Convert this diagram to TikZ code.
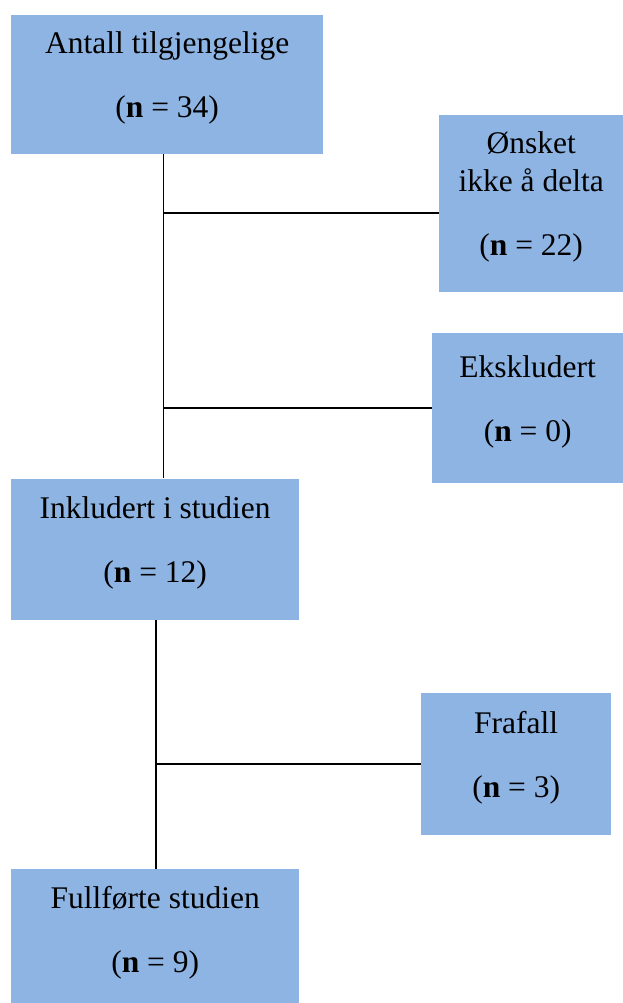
\documentclass[tikz,border=0pt]{standalone}
\usepackage{fontspec}
\setmainfont{Liberation Serif}
\usepackage{tikz}
\usetikzlibrary{positioning}
\definecolor{boxblue}{HTML}{8EB4E3}

\begin{document}
\begin{tikzpicture}[
  x=1pt, y=1pt,
  box/.style={fill=boxblue, align=center, anchor=north west, inner sep=0pt,
    text depth=20pt, font=\fontsize{31.5}{38}\selectfont},
  link/.style={line width=1.5pt}
]
\useasboundingbox (0,0) rectangle (623,-1003);

% Main column
\node[box, minimum width=312pt, minimum height=139pt] (avail) at (11,-15)
  {Antall tilgjengelige\\[26pt](\textbf{n} = 34)};
\node[box, minimum width=288pt, minimum height=141pt, below=324pt of avail.south west, anchor=north west] (included)
  {Inkludert i studien\\[26pt](\textbf{n} = 12)};
\node[box, minimum width=288pt, minimum height=141pt, below=249pt of included.south west, anchor=north west] (completed)
  {Fullførte studien\\[26pt](\textbf{n} = 9)};

% Side boxes
\node[box, minimum width=184pt, minimum height=177pt] (declined) at (439,-115)
  {Ønsket\\ikke å delta\\[26pt](\textbf{n} = 22)};
\node[box, minimum width=191pt, minimum height=150pt] (excluded) at (432,-333)
  {Ekskludert\\[26pt](\textbf{n} = 0)};
\node[box, minimum width=190pt, minimum height=142pt] (dropout) at (421,-693)
  {Frafall\\[26pt](\textbf{n} = 3)};

% Connections
\coordinate (trunk) at ([xshift=-3.5pt]avail.south);
\coordinate (trunkb) at ([xshift=1pt]included.south);
\draw[link] (trunk) -- (trunk |- included.north);
\draw[link] ([yshift=-9.5pt]trunk |- declined.west) -- ([yshift=-9.5pt]declined.west);
\draw[link] (trunk |- excluded.west) -- (excluded.west);
\draw[link] (trunkb) -- (trunkb |- completed.north);
\draw[link] (trunkb |- dropout.west) -- (dropout.west);

\end{tikzpicture}
\end{document}
